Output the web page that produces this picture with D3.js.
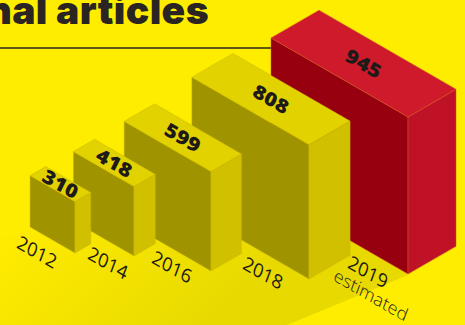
<!DOCTYPE html>
<html>
<head>
<meta charset="utf-8">
<style>
html,body{margin:0;padding:0;background:#FFED00;overflow:hidden}
svg{display:block}
</style>
<script src="https://cdnjs.cloudflare.com/ajax/libs/d3/7.8.5/d3.min.js"></script>
</head>
<body>
<svg id="chart" width="465" height="325"></svg>
<script>
const years = ["2012", "2014", "2016", "2018", "2019"];
const articles = [310, 418, 599, 808, 945];
const estimatedYear = "2019";
const titleText = "nal articles";
const noteText = "estimated";

const W = 465, H = 325;
const svg = d3.select("#chart");
const TAN30 = Math.tan(Math.PI / 6);

// Every box grows uniformly with its value: height, run along the floor, and depth.
const maxValue = d3.max(articles);
const heightScale = d3.scaleLinear().domain([0, maxValue]).range([0, 157]);
const runScale = d3.scaleLinear().domain([0, maxValue]).range([0, 137]);
const depthScale = d3.scaleLinear().domain([0, maxValue]).range([0, 48]);

// Floor position of each box's nearest corner, and of each year caption.
const cornerX = d3.scaleOrdinal().domain(years).range([75, 134, 211, 309, 408]);
const cornerY = d3.scaleOrdinal().domain(years).range([253, 256, 271, 279, 274]);
const captionX = d3.scaleOrdinal().domain(years).range([37, 108, 172, 263, 368]);
const captionY = d3.scaleOrdinal().domain(years).range([252, 263, 267, 273, 272]);

const palette = {
  normal: {top: "#E2D200", left: "#A09300", right: "#D1C000", edge: "#C9B800"},
  highlight: {top: "#CF1A2B", left: "#96000F", right: "#BF1226", edge: "#D2542A"}
};

// Floor shadow
const defs = svg.append("defs");
const floorGrad = defs.append("linearGradient").attr("id", "floorGrad")
  .attr("gradientUnits", "userSpaceOnUse")
  .attr("x1", 60).attr("y1", 190).attr("x2", 200).attr("y2", 330);
floorGrad.append("stop").attr("offset", 0).attr("stop-color", "#FFEB00");
floorGrad.append("stop").attr("offset", 1).attr("stop-color", "#E8DA00");

svg.append("path")
  .attr("d", d3.line()([[0, 238], [271, 165], [408, 275], [287, 325], [0, 325]]) + "Z")
  .attr("fill", "url(#floorGrad)");

// Heading and rule
svg.append("text")
  .attr("x", 209).attr("y", 24)
  .attr("text-anchor", "end")
  .attr("font-family", "Inter, 'Open Sans', sans-serif")
  .attr("font-weight", 900)
  .attr("font-size", 39)
  .attr("letter-spacing", 0.4)
  .attr("fill", "#2A2523")
  .text(titleText);

svg.append("line")
  .attr("x1", 0).attr("x2", 272).attr("y1", 48).attr("y2", 48)
  .attr("stroke", "#2A2523").attr("stroke-width", 1.3);

// Boxes are painted back to front: the largest sits furthest away.
const rows = years.map((year, i) => ({year, value: articles[i]})).reverse();
const line = d3.line();

const boxes = svg.selectAll("g.box").data(rows).join("g").attr("class", "box");

boxes.each(function (d) {
  const g = d3.select(this);
  const colors = d.year === estimatedYear ? palette.highlight : palette.normal;
  const x = cornerX(d.year), y = cornerY(d.year);
  const h = heightScale(d.value), r = runScale(d.value), w = depthScale(d.value);

  const frontBottom = [x, y];
  const frontTop = [x, y - h];
  const leftBottom = [x - r, y - r * TAN30];
  const leftTop = [x - r, y - r * TAN30 - h];
  const rightBottom = [x + w, y - w * TAN30];
  const rightTop = [x + w, y - w * TAN30 - h];
  const backTop = [x - r + w, y - (r + w) * TAN30 - h];

  const face = (pts, fill) => g.append("path")
    .attr("d", line(pts) + "Z")
    .attr("fill", fill)
    .attr("stroke", colors.edge)
    .attr("stroke-width", 0.5)
    .attr("stroke-linejoin", "round");

  face([leftBottom, frontBottom, frontTop, leftTop], colors.left);
  face([frontBottom, rightBottom, rightTop, frontTop], colors.right);
  face([leftTop, frontTop, rightTop, backTop], colors.top);

  // Value printed flat on the lid of the box
  const cx = (leftTop[0] + rightTop[0]) / 2, cy = (leftTop[1] + rightTop[1]) / 2;
  g.append("text")
    .attr("transform", `matrix(0.95,0.55,-0.42,0.85,${cx},${cy})`)
    .attr("text-anchor", "middle")
    .attr("dy", "0.36em")
    .attr("font-family", "'Open Sans', sans-serif")
    .attr("font-weight", 800)
    .attr("font-size", 20)
    .attr("fill", "#1E1A18")
    .text(d.value);
});

// Year captions on the floor
svg.selectAll("text.year").data(years).join("text")
  .attr("class", "year")
  .attr("transform", d => `matrix(0.9,0.52,-0.35,0.95,${captionX(d)},${captionY(d)})`)
  .attr("text-anchor", "middle")
  .attr("dy", "0.36em")
  .attr("font-family", "'Open Sans', sans-serif")
  .attr("font-size", 18.5)
  .attr("fill", "#1E1A18")
  .text(d => d);

svg.append("text")
  .attr("transform", "matrix(0.9,0.52,-0.35,0.9,371,295)")
  .attr("text-anchor", "middle")
  .attr("dy", "0.36em")
  .attr("font-family", "'Open Sans', sans-serif")
  .attr("font-weight", 300)
  .attr("font-size", 18)
  .attr("fill", "#2A2523")
  .text(noteText);
</script>
</body>
</html>
